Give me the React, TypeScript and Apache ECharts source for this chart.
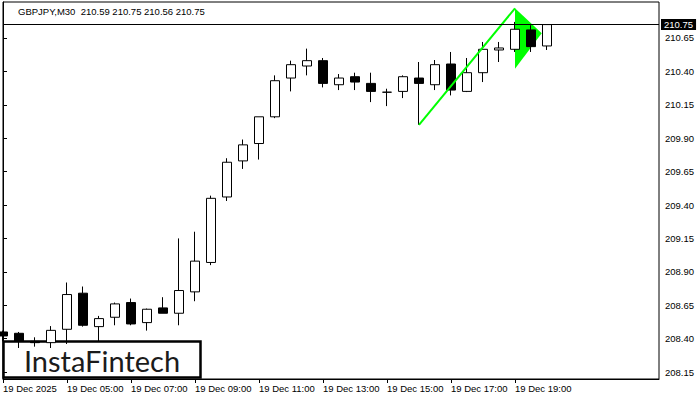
import React, { useEffect, useRef } from "react";
import * as echarts from "echarts";

const times = [
  "03:00", "03:30", "04:00", "04:30", "05:00", "05:30", "06:00", "06:30",
  "07:00", "07:30", "08:00", "08:30", "09:00", "09:30", "10:00", "10:30",
  "11:00", "11:30", "12:00", "12:30", "13:00", "13:30", "14:00", "14:30",
  "15:00", "15:30", "16:00", "16:30", "17:00", "17:30", "18:00", "18:30",
  "19:00", "19:30", "20:00", "20:30", "21:00", "21:30", "22:00", "22:30",
  "23:00", "23:30",
];

// [open, close, low, high]
const opens = [
  208.45, 208.44, 208.38, 208.37, 208.47, 208.74, 208.49, 208.56, 208.67, 208.52,
  208.63, 208.59, 208.75, 208.97, 209.46, 209.73, 209.86, 210.06, 210.35, 210.44,
  210.48, 210.30, 210.36, 210.31, 210.244, 210.25, 210.35, 210.30, 210.455, 210.25,
  210.39, 210.56, 210.565, 210.71, 210.59,
];
const closes = [
  208.42, 208.38, 208.37, 208.462, 208.73, 208.50, 208.55, 208.66, 208.51, 208.62,
  208.59, 208.76, 208.98, 209.45, 209.72, 209.85, 210.06, 210.33, 210.45, 210.48,
  210.31, 210.35, 210.32, 210.25, 210.244, 210.36, 210.31, 210.45, 210.26, 210.39,
  210.565, 210.575, 210.715, 210.585, 210.75,
];
const lows = [
  208.38, 208.33, 208.34, 208.33, 208.36, 208.49, 208.38, 208.50, 208.50, 208.46,
  208.59, 208.50, 208.68, 208.95, 209.43, 209.67, 209.74, 210.05, 210.25, 210.37,
  210.28, 210.26, 210.26, 210.17, 210.14, 210.20, 210.00, 210.26, 210.22, 210.245,
  210.32, 210.47, 210.545, 210.545, 210.56,
];
const highs = [
  208.46, 208.45, 208.41, 208.494, 208.82, 208.79, 208.57, 208.67, 208.70, 208.625,
  208.71, 209.15, 209.20, 209.47, 209.75, 209.89, 210.06, 210.37, 210.48, 210.57,
  210.50, 210.38, 210.39, 210.39, 210.27, 210.37, 210.47, 210.485, 210.545, 210.50,
  210.62, 210.62, 210.77, 210.745, 210.75,
];

const xTickLabels = [
  "19 Dec 2025", "19 Dec 05:00", "19 Dec 07:00", "19 Dec 09:00", "19 Dec 11:00",
  "19 Dec 13:00", "19 Dec 15:00", "19 Dec 17:00", "19 Dec 19:00",
];
const yTicks = [208.15, 208.4, 208.65, 208.9, 209.15, 209.4, 209.65, 209.9, 210.15, 210.4, 210.65];

const lastPrice = 210.75;
const headerText = "GBPJPY,M30  210.59 210.75 210.56 210.75";

// flag pattern (bar index, price)
const poleLine = [[26, 210.0], [32, 210.872]];
const flagTriangle = [[32, 210.872], [33.67, 210.685], [32, 210.42]];

const FONT = "'Liberation Sans', Arial, sans-serif";

export default function App() {
  const ref = useRef<HTMLDivElement>(null);
  useEffect(() => {
    if (!ref.current) return;
    const chart = echarts.init(ref.current, null, { renderer: "svg" });
    const candleData = opens.map((o, i) => [o, closes[i], lows[i], highs[i]]);
    chart.setOption({
      animation: false,
      backgroundColor: "#fff",
      grid: {
        left: 3, right: 41, top: 2, bottom: 21,
        show: true, borderColor: "#000", borderWidth: 1, backgroundColor: "#fff",
      },
      xAxis: [
        {
          type: "category",
          data: times,
          boundaryGap: false,
          axisLine: { show: true, lineStyle: { color: "#000", width: 1 } },
          axisTick: {
            show: true, length: 4, lineStyle: { color: "#000" },
            interval: (idx: number) => idx % 4 === 0 && idx / 4 < xTickLabels.length,
          },
          axisLabel: {
            show: true,
            interval: (idx: number) => idx % 4 === 0 && idx / 4 < xTickLabels.length,
            formatter: (_v: string, idx: number) => (idx % 4 === 0 ? xTickLabels[idx / 4] ?? "" : ""),
            align: "left",
            margin: 4,
            color: "#000",
            fontSize: 9.5,
            fontFamily: FONT,
          },
          splitLine: { show: false },
        },
        { type: "value", min: 0, max: 41, show: false },
      ],
      yAxis: {
        type: "value",
        position: "right",
        min: 208.098,
        max: 210.919,
        axisLine: { show: true, lineStyle: { color: "#000", width: 1 } },
        axisTick: { show: true, length: 4, customValues: yTicks, lineStyle: { color: "#000" } },
        axisLabel: {
          customValues: yTicks,
          formatter: (v: number) => v.toFixed(2),
          color: "#000",
          fontSize: 9.5,
          fontFamily: FONT,
          margin: 6,
        },
        splitLine: { show: false },
      },
      series: [
        {
          type: "custom",
          xAxisIndex: 1,
          z: 1,
          data: [0],
          renderItem: (_p: any, api: any) => ({
            type: "polygon",
            shape: { points: flagTriangle.map((pt) => api.coord(pt)) },
            style: { fill: "#00ff00", stroke: "none" },
          }),
        },
        {
          type: "candlestick",
          z: 2,
          barWidth: 9,
          clip: false,
          data: candleData,
          itemStyle: {
            color: "#ffffff",
            color0: "#000000",
            borderColor: "#000000",
            borderColor0: "#000000",
            borderWidth: 1,
          },
          markLine: {
            silent: true,
            symbol: "none",
            lineStyle: { color: "#000", width: 1, type: "solid" },
            label: {
              show: true,
              position: "end",
              formatter: () => lastPrice.toFixed(2),
              color: "#fff",
              backgroundColor: "#000",
              padding: [1, 3, 0, 3],
              fontSize: 9.5,
              fontFamily: FONT,
              distance: 2,
            },
            data: [{ yAxis: lastPrice }],
          },
        },
        {
          type: "line",
          xAxisIndex: 1,
          z: 3,
          data: poleLine,
          symbol: "none",
          lineStyle: { color: "#00ff00", width: 2 },
        },
      ],
      graphic: [
        {
          type: "text",
          x: 18,
          y: 11,
          style: {
            text: headerText,
            fill: "#000",
            fontSize: 9.5,
            fontFamily: FONT,
            verticalAlign: "middle",
          },
        },
        {
          type: "group",
          z: 100,
          children: [
            {
              type: "rect",
              shape: { x: 3.5, y: 341.5, width: 197, height: 36 },
              style: { fill: "#fff", stroke: "#000", lineWidth: 2.5 },
            },
            {
              type: "text",
              x: 102,
              y: 360,
              style: {
                text: "InstaFintech",
                fill: "#1b1b1b",
                fontSize: 29,
                fontFamily: "Lato, 'Noto Sans', sans-serif",
                align: "center",
                verticalAlign: "middle",
              },
            },
          ],
        },
      ],
    });
    return () => chart.dispose();
  }, []);
  return <div ref={ref} style={{ position: "fixed", left: 0, top: 0, width: 700, height: 400 }} />;
}
